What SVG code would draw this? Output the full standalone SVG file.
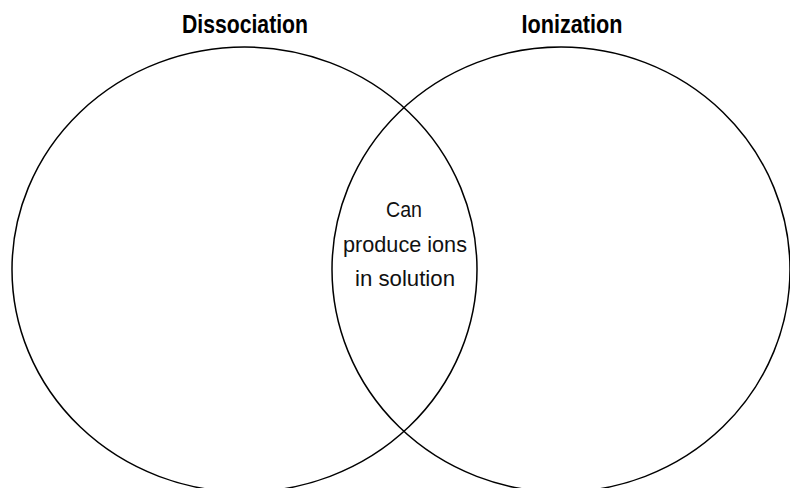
<svg xmlns="http://www.w3.org/2000/svg" width="790" height="488" viewBox="0 0 790 488">
<style>
.c{fill:none;stroke:#000;stroke-width:1.5}
.h{font-family:"Liberation Sans",Arial,sans-serif;font-weight:bold;font-size:25px;fill:#000;text-anchor:middle}
.t{font-family:"Liberation Sans",Arial,sans-serif;font-size:22px;fill:#111;text-anchor:middle}
</style>
<rect width="790" height="488" fill="#fff"/>
<g id="dissociation">
<ellipse class="c" cx="244.5" cy="269.5" rx="232.5" ry="222.5"/>
<text class="h" x="245" y="33" textLength="126" lengthAdjust="spacingAndGlyphs">Dissociation</text>
</g>
<g id="ionization">
<ellipse class="c" cx="561" cy="269.5" rx="229" ry="222.5"/>
<text class="h" x="572" y="33" textLength="101" lengthAdjust="spacingAndGlyphs">Ionization</text>
</g>
<g id="overlap">
<text class="t" x="404" y="217" textLength="36" lengthAdjust="spacingAndGlyphs">Can</text>
<text class="t" x="405" y="252" textLength="124" lengthAdjust="spacingAndGlyphs">produce ions</text>
<text class="t" x="405" y="286" textLength="100" lengthAdjust="spacingAndGlyphs">in solution</text>
</g>
</svg>
